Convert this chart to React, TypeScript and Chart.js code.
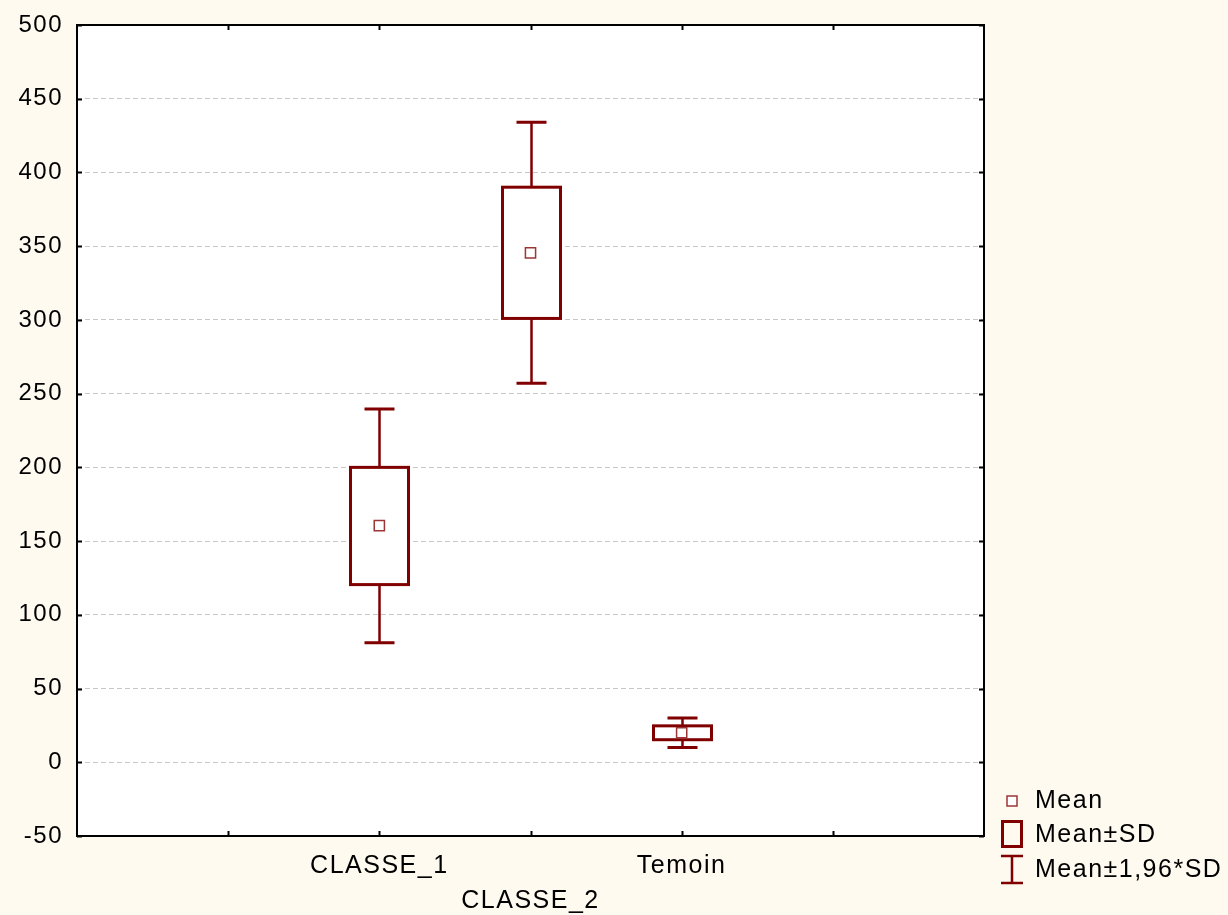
import React, { useEffect, useRef } from 'react';
import { Chart, registerables } from 'chart.js';

Chart.register(...registerables);

// ---- data ----
const CATEGORIES = ['CLASSE_1', 'CLASSE_2', 'Temoin'];
const CATEGORY_X = [2, 3, 4];
const MEANS = [160.5, 345.5, 20];
const SD_LOWER = [120.5, 301, 15.3];
const SD_UPPER = [200, 390, 24.7];
const CI196_LOWER = [81, 257, 10];
const CI196_UPPER = [239.5, 434, 30];
const LEGEND_LABELS = ['Mean', 'Mean±SD', 'Mean±1,96*SD'];

const Y_MIN = -50;
const Y_MAX = 500;
const Y_STEP = 50;
const X_MIN = 0;
const X_MAX = 6;

// ---- styles ----
const BG = '#fefaf0';
const DARK_RED = '#800000';
const MEAN_BORDER = '#9c3636';
const FONT = '"Liberation Sans", Arial, sans-serif';

const boxPlugin = {
  id: 'boxPlugin',
  beforeDraw(chart: any) {
    const { ctx, width, height, chartArea } = chart;
    ctx.save();
    ctx.fillStyle = BG;
    ctx.fillRect(0, 0, width, height);
    ctx.fillStyle = '#ffffff';
    ctx.fillRect(chartArea.left, chartArea.top, chartArea.right - chartArea.left, chartArea.bottom - chartArea.top);
    ctx.restore();
    ctx.letterSpacing = '1.5px';
  },
  beforeDatasetsDraw(chart: any) {
    const { ctx } = chart;
    const xs = chart.scales.x;
    const ys = chart.scales.y;
    const halfBox = 29;
    const halfCap = 15;
    ctx.save();
    ctx.strokeStyle = DARK_RED;
    for (let i = 0; i < CATEGORIES.length; i++) {
      const cx = Math.round(xs.getPixelForValue(CATEGORY_X[i])) + 0.5;
      const yCiU = ys.getPixelForValue(CI196_UPPER[i]);
      const yCiL = ys.getPixelForValue(CI196_LOWER[i]);
      const ySdU = ys.getPixelForValue(SD_UPPER[i]);
      const ySdL = ys.getPixelForValue(SD_LOWER[i]);
      // stems
      ctx.lineWidth = 2.5;
      ctx.beginPath();
      ctx.moveTo(cx, yCiU);
      ctx.lineTo(cx, ySdU);
      ctx.moveTo(cx, ySdL);
      ctx.lineTo(cx, yCiL);
      ctx.stroke();
      // caps
      ctx.lineWidth = 3;
      ctx.beginPath();
      ctx.moveTo(cx - halfCap, yCiU);
      ctx.lineTo(cx + halfCap, yCiU);
      ctx.moveTo(cx - halfCap, yCiL);
      ctx.lineTo(cx + halfCap, yCiL);
      ctx.stroke();
      // box
      ctx.fillStyle = '#ffffff';
      ctx.fillRect(cx - halfBox, ySdU, halfBox * 2, ySdL - ySdU);
      ctx.lineWidth = 3;
      ctx.strokeRect(cx - halfBox, ySdU, halfBox * 2, ySdL - ySdU);
    }
    ctx.restore();
  },
  afterDraw(chart: any) {
    const { ctx, chartArea } = chart;
    const xs = chart.scales.x;
    const ys = chart.scales.y;
    const { left, right, top, bottom } = chartArea;
    ctx.save();
    // frame
    ctx.strokeStyle = '#000';
    ctx.lineWidth = 2;
    ctx.strokeRect(left, top, right - left, bottom - top);
    // inward ticks
    const tl = 5;
    ctx.beginPath();
    ys.ticks.forEach((t: any) => {
      const p = Math.round(ys.getPixelForValue(t.value)) + 0.5;
      ctx.moveTo(left, p);
      ctx.lineTo(left + tl, p);
      ctx.moveTo(right, p);
      ctx.lineTo(right - tl, p);
    });
    xs.ticks.forEach((t: any) => {
      if (t.value <= X_MIN || t.value >= X_MAX) return;
      const p = Math.round(xs.getPixelForValue(t.value)) + 0.5;
      ctx.moveTo(p, bottom);
      ctx.lineTo(p, bottom - tl);
      ctx.moveTo(p, top);
      ctx.lineTo(p, top + tl);
    });
    ctx.lineWidth = 2;
    ctx.stroke();

    // legend
    const mx = 1012;
    const tx = 1035;
    const rows = [800, 834, 869];
    ctx.strokeStyle = MEAN_BORDER;
    ctx.lineWidth = 1.5;
    ctx.fillStyle = '#fff';
    ctx.fillRect(mx - 5, rows[0] - 4, 10, 10);
    ctx.strokeRect(mx - 5, rows[0] - 4, 10, 10);
    ctx.strokeStyle = DARK_RED;
    ctx.lineWidth = 3;
    ctx.strokeRect(mx - 9.5, rows[1] - 12.5, 19, 25);
    ctx.lineWidth = 2.5;
    ctx.beginPath();
    ctx.moveTo(mx, rows[2] - 13);
    ctx.lineTo(mx, rows[2] + 14);
    ctx.moveTo(mx - 11, rows[2] - 13);
    ctx.lineTo(mx + 11, rows[2] - 13);
    ctx.moveTo(mx - 11, rows[2] + 14);
    ctx.lineTo(mx + 11, rows[2] + 14);
    ctx.stroke();
    ctx.fillStyle = '#000';
    ctx.font = '25px ' + FONT;
    ctx.textAlign = 'left';
    ctx.textBaseline = 'middle';
    LEGEND_LABELS.forEach((lab, i) => {
      ctx.fillText(lab, tx, rows[i] + 1);
    });
    ctx.restore();
  },
};

export default function App() {
  const canvasRef = useRef<HTMLCanvasElement | null>(null);

  useEffect(() => {
    document.body.style.margin = '0';
    const canvas = canvasRef.current;
    if (!canvas) return;
    const meanPoints = CATEGORY_X.map((x, i) => ({ x, y: MEANS[i] }));
    const chart = new Chart(canvas, {
      type: 'scatter',
      data: {
        datasets: [
          {
            label: LEGEND_LABELS[0],
            data: meanPoints,
            pointStyle: 'rect',
            pointRadius: 7.2,
            pointHoverRadius: 7.2,
            borderWidth: 1.5,
            borderColor: MEAN_BORDER,
            backgroundColor: '#ffffff',
          },
        ],
      },
      options: {
        responsive: false,
        animation: false,
        devicePixelRatio: 1,
        layout: { padding: { left: 0, right: 244, top: 25, bottom: 0 } },
        plugins: {
          legend: { display: false },
          tooltip: { enabled: false },
        },
        scales: {
          x: {
            type: 'linear',
            min: X_MIN,
            max: X_MAX,
            grid: { display: false, drawTicks: false },
            border: { display: false },
            ticks: {
              stepSize: 1,
              autoSkip: false,
              maxRotation: 0,
              padding: 13,
              color: '#000',
              font: { family: FONT, size: 25, lineHeight: 1.4 },
              callback: (v: any) => {
                const idx = CATEGORY_X.indexOf(Number(v));
                if (idx < 0) return '';
                return idx % 2 === 1 ? ['', CATEGORIES[idx]] : CATEGORIES[idx];
              },
            },
            afterFit: (s: any) => {
              s.height = 79;
            },
          },
          y: {
            type: 'linear',
            min: Y_MIN,
            max: Y_MAX,
            grid: { color: '#c8c8c8', lineWidth: 1, drawTicks: false },
            border: { display: false, dash: [5, 3] },
            ticks: {
              stepSize: Y_STEP,
              padding: 14,
              color: '#000',
              font: { family: FONT, size: 24, lineHeight: 0.8 },
            },
            afterFit: (s: any) => {
              s.width = 77;
            },
          },
        },
      },
      plugins: [boxPlugin],
    });
    return () => {
      chart.destroy();
    };
  }, []);

  return (
    <div style={{ width: 1228, height: 915, position: 'relative' }}>
      <canvas ref={canvasRef} width={1228} height={915} style={{ display: 'block' }} />
    </div>
  );
}
